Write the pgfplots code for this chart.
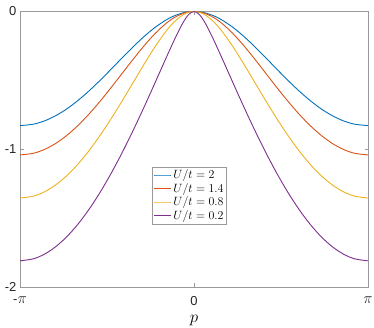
\documentclass[border=0pt]{standalone}
\usepackage{fix-cm}
\usepackage{fontspec}
\setmainfont{Liberation Sans}
\usepackage{graphicx}
\usepackage{pgfplots}
\pgfplotsset{compat=1.18}
\definecolor{mblue}{rgb}{0,0.447,0.741}
\definecolor{morange}{rgb}{0.85,0.325,0.098}
\definecolor{myellow}{rgb}{0.929,0.694,0.125}
\definecolor{mpurple}{rgb}{0.494,0.184,0.556}

% U/t = 2
\pgfplotstableread{
x y
-3.1416 -0.8284
-2.9 -0.8181
-2.7 -0.7943
-2.5 -0.7572
-2.3 -0.7079
-2.1 -0.6476
-1.9 -0.5781
-1.7 -0.5015
-1.5 -0.4204
-1.3 -0.3377
-1.1 -0.2567
-0.9 -0.1810
-0.7 -0.1143
-0.5 -0.0603
-0.35 -0.0301
-0.2 -0.0099
-0.1 -0.0025
0 0
0.1 -0.0025
0.2 -0.0099
0.35 -0.0301
0.5 -0.0603
0.7 -0.1143
0.9 -0.1810
1.1 -0.2567
1.3 -0.3377
1.5 -0.4204
1.7 -0.5015
1.9 -0.5781
2.1 -0.6476
2.3 -0.7079
2.5 -0.7572
2.7 -0.7943
2.9 -0.8181
3.1416 -0.8284
}\ua

% U/t = 1.4
\pgfplotstableread{
x y
-3.1416 -1.0413
-2.9 -1.0294
-2.7 -1.0017
-2.5 -0.9585
-2.3 -0.9006
-2.1 -0.8293
-1.9 -0.7463
-1.7 -0.6537
-1.5 -0.5541
-1.3 -0.4507
-1.1 -0.3472
-0.9 -0.2483
-0.7 -0.1589
-0.5 -0.0849
-0.35 -0.0427
-0.2 -0.0142
-0.1 -0.0036
0 0
0.1 -0.0036
0.2 -0.0142
0.35 -0.0427
0.5 -0.0849
0.7 -0.1589
0.9 -0.2483
1.1 -0.3472
1.3 -0.4507
1.5 -0.5541
1.7 -0.6537
1.9 -0.7463
2.1 -0.8293
2.3 -0.9006
2.5 -0.9585
2.7 -1.0017
2.9 -1.0294
3.1416 -1.0413
}\ub

% U/t = 0.8
\pgfplotstableread{
x y
-3.1416 -1.3541
-2.9 -1.3405
-2.7 -1.3091
-2.5 -1.2597
-2.3 -1.1931
-2.1 -1.1104
-1.9 -1.0129
-1.7 -0.9023
-1.5 -0.7807
-1.3 -0.6509
-1.1 -0.5164
-0.9 -0.3819
-0.7 -0.2537
-0.5 -0.1407
-0.35 -0.0725
-0.2 -0.0245
-0.1 -0.0062
0 0
0.1 -0.0062
0.2 -0.0245
0.35 -0.0725
0.5 -0.1407
0.7 -0.2537
0.9 -0.3819
1.1 -0.5164
1.3 -0.6509
1.5 -0.7807
1.7 -0.9023
1.9 -1.0129
2.1 -1.1104
2.3 -1.1931
2.5 -1.2597
2.7 -1.3091
2.9 -1.3405
3.1416 -1.3541
}\uc

% U/t = 0.2
\pgfplotstableread{
x y
-3.1416 -1.8100
-2.9 -1.7955
-2.7 -1.7617
-2.5 -1.7085
-2.3 -1.6365
-2.1 -1.5463
-1.9 -1.4391
-1.7 -1.3158
-1.5 -1.1779
-1.3 -1.0268
-1.1 -0.8643
-0.9 -0.6926
-0.7 -0.5144
-0.5 -0.3337
-0.35 -0.2016
-0.25 -0.1197
-0.2 -0.0826
-0.15 -0.0499
-0.1 -0.0236
-0.05 -0.0062
0 0
0.05 -0.0062
0.1 -0.0236
0.15 -0.0499
0.2 -0.0826
0.25 -0.1197
0.35 -0.2016
0.5 -0.3337
0.7 -0.5144
0.9 -0.6926
1.1 -0.8643
1.3 -1.0268
1.5 -1.1779
1.7 -1.3158
1.9 -1.4391
2.1 -1.5463
2.3 -1.6365
2.5 -1.7085
2.7 -1.7617
2.9 -1.7955
3.1416 -1.8100
}\ud

\begin{document}
\begin{tikzpicture}
\useasboundingbox (-20pt,-41pt) rectangle (354pt,287pt);
\begin{axis}[
    scale only axis,
    width=348pt, height=275.5pt,
    xmin=-3.1416, xmax=3.1416,
    ymin=-2, ymax=0,
    xtick={-3.1416,0,3.1416},
    xticklabels={-\scalebox{1.2}{$\pi$},0,\scalebox{1.2}{$\pi$}},
    ytick={-2,-1,0},
    yticklabels={-2,-1,0},
    tick align=inside,
    major tick length=3.5pt,
    axis line style={black!40, line width=0.5pt},
    tick style={black!40, line width=0.5pt},
    ticklabel style={font=\fontsize{13}{15}\selectfont, text=black!85},
    xticklabel style={yshift=-6pt},
    xlabel={\scalebox{1.3}{$p$}},
    xlabel style={font=\fontsize{13}{15}\selectfont, inner sep=1pt,
        at={(axis description cs:0.5,-0.12)}, anchor=center},
    legend cell align=left,
    legend style={at={(0.487,0.333)}, anchor=center,
        draw=black!40, line width=0.5pt,
        font=\fontsize{12}{14}\selectfont,
        inner sep=1pt, row sep=-1pt},
    every axis plot/.append style={line width=0.9pt, smooth},
]
\addplot[color=mblue] table {\ua};
\addlegendentry{$U/t=2$}
\addplot[color=morange] table {\ub};
\addlegendentry{$U/t=1.4$}
\addplot[color=myellow] table {\uc};
\addlegendentry{$U/t=0.8$}
\addplot[color=mpurple] table {\ud};
\addlegendentry{$U/t=0.2$}
\end{axis}
\end{tikzpicture}
\end{document}
